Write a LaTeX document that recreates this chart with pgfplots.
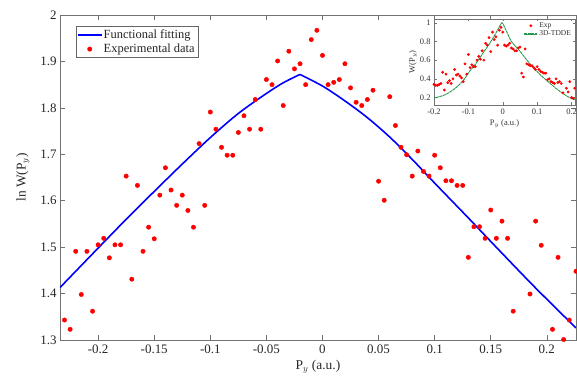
\documentclass[border=0pt]{standalone}
\usepackage{pgfplots}
\pgfplotsset{compat=1.18}
\usepackage{fontspec}
\setmainfont{Liberation Serif}
\definecolor{mred}{rgb}{1,0,0}
\definecolor{mblue}{rgb}{0,0,1}
\definecolor{mgreen}{rgb}{0.15,0.6,0.3}
\definecolor{axgray}{gray}{0.45}

\pgfplotstableread{
x y
-0.230 1.343
-0.225 1.323
-0.220 1.491
-0.215 1.398
-0.210 1.491
-0.205 1.362
-0.200 1.505
-0.195 1.519
-0.190 1.477
-0.185 1.505
-0.180 1.505
-0.175 1.653
-0.170 1.431
-0.165 1.633
-0.160 1.491
-0.155 1.543
-0.150 1.518
-0.145 1.612
-0.140 1.671
-0.135 1.623
-0.130 1.590
-0.125 1.612
-0.120 1.579
-0.115 1.543
-0.110 1.723
-0.105 1.590
-0.100 1.791
-0.095 1.754
-0.090 1.715
-0.085 1.698
-0.080 1.698
-0.075 1.747
-0.070 1.783
-0.065 1.754
-0.060 1.818
-0.055 1.754
-0.050 1.861
-0.045 1.850
-0.040 1.901
-0.035 1.805
-0.030 1.922
-0.025 1.884
-0.020 1.895
-0.015 1.850
-0.010 1.947
-0.005 1.967
0.000 1.913
0.005 1.850
0.010 1.855
0.015 1.861
0.020 1.895
0.025 1.843
0.030 1.812
0.035 1.805
0.040 1.818
0.045 1.838
0.050 1.642
0.055 1.601
0.060 1.824
0.065 1.762
0.070 1.715
0.075 1.699
0.080 1.653
0.085 1.707
0.090 1.663
0.095 1.653
0.100 1.698
0.105 1.671
0.110 1.643
0.115 1.643
0.120 1.633
0.125 1.633
0.130 1.478
0.135 1.544
0.140 1.544
0.145 1.519
0.150 1.580
0.155 1.519
0.160 1.556
0.165 1.519
0.170 1.362
0.185 1.399
0.190 1.556
0.195 1.504
0.205 1.323
0.210 1.478
0.215 1.301
0.220 1.343
0.226 1.448
}\expdata

\pgfplotstableread{
x y
-0.2340 1.413
-0.2000 1.498
-0.1750 1.560
-0.1500 1.620
-0.1250 1.679
-0.1000 1.736
-0.0750 1.788
-0.0500 1.831
-0.0350 1.854
-0.0201 1.872
}\fitleft

\pgfplotstableread{
x y
-0.0201 1.872
0.0000 1.847
0.0200 1.815
0.0400 1.779
0.0600 1.737
0.0800 1.689
0.1000 1.638
0.1300 1.563
0.1600 1.487
0.1900 1.412
0.2260 1.326
}\fitright

\pgfplotstableread{
x y
-0.200 0.34
-0.195 0.33
-0.190 0.33
-0.185 0.34
-0.180 0.35
-0.175 0.47
-0.170 0.28
-0.165 0.45
-0.160 0.36
-0.155 0.38
-0.150 0.35
-0.145 0.40
-0.140 0.50
-0.135 0.44
-0.130 0.45
-0.125 0.43
-0.120 0.41
-0.115 0.37
-0.110 0.56
-0.105 0.45
-0.100 0.66
-0.095 0.52
-0.090 0.55
-0.085 0.53
-0.080 0.53
-0.075 0.60
-0.070 0.64
-0.065 0.61
-0.060 0.70
-0.055 0.60
-0.050 0.78
-0.045 0.76
-0.040 0.84
-0.035 0.69
-0.030 0.90
-0.025 0.82
-0.020 0.85
-0.015 0.76
-0.010 0.92
-0.005 0.95
0.000 0.90
0.005 0.76
0.010 0.75
0.015 0.76
0.020 0.78
0.025 0.73
0.030 0.72
0.035 0.70
0.040 0.70
0.045 0.73
0.050 0.74
0.055 0.46
0.060 0.42
0.065 0.72
0.070 0.56
0.075 0.55
0.080 0.54
0.085 0.54
0.090 0.52
0.095 0.50
0.100 0.53
0.105 0.50
0.110 0.48
0.115 0.47
0.120 0.46
0.125 0.46
0.130 0.39
0.135 0.40
0.140 0.37
0.145 0.36
0.150 0.35
0.155 0.40
0.160 0.36
0.165 0.37
0.170 0.35
0.175 0.25
0.185 0.30
0.190 0.26
0.195 0.37
0.200 0.20
0.205 0.19
0.209 0.30
}\insetexp

\pgfplotstableread{
x y
-0.204 0.19
-0.185 0.208
-0.165 0.234
-0.145 0.28
-0.126 0.339
-0.110 0.405
-0.097 0.478
-0.082 0.545
-0.068 0.617
-0.054 0.695
-0.039 0.773
-0.024 0.865
-0.010 0.955
-0.002 1.0
0.010 0.915
0.025 0.80
0.049 0.70
0.068 0.61
0.087 0.53
0.110 0.44
0.136 0.356
0.160 0.283
0.185 0.218
0.209 0.176
}\insettdde

\begin{document}
\begin{tikzpicture}[x=1bp,y=1bp]
\begin{axis}[
  at={(0,0)}, anchor=south west,
  scale only axis, width=516bp, height=325bp,
  xmin=-0.234, xmax=0.226, ymin=1.3, ymax=2,
  xtick={-0.2,-0.15,-0.1,-0.05,0,0.05,0.1,0.15,0.2},
  xticklabels={-0.2,-0.15,-0.1,-0.05,0,0.05,0.1,0.15,0.2},
  ytick={1.3,1.4,1.5,1.6,1.7,1.8,1.9,2},
  yticklabels={1.3,1.4,1.5,1.6,1.7,1.8,1.9,2},
  xtick pos=both, ytick pos=both,
  tick align=inside,
  major tick length=5bp,
  tick style={axgray, line width=0.5bp},
  axis line style={axgray, line width=0.7bp},
  ticklabel style={font=\fontsize{13}{15}\selectfont, text=black!85},
  xticklabel style={yshift=-1bp},
  label style={font=\fontsize{13.5}{15}\selectfont, text=black!85},
  xlabel={P$_y$ (a.u.)},
  ylabel={ln W(P$_y$)},
  xlabel style={yshift=0bp},
  ylabel style={yshift=4bp},
  legend style={at={(0.031,0.966)}, anchor=north west,
    draw=black!60, fill=white, line width=0.5bp,
    font=\fontsize{12.5}{15}\selectfont, text=black!85,
    row sep=0bp, inner sep=1.5bp},
  legend cell align=left,
]
\addplot[mblue, line width=1.6bp, draw=none,
  legend image code/.code={\fill[mblue] (0bp,-1bp) rectangle (24bp,1bp);}]
  table[x=x,y=y]{\fitleft};
\addlegendentry{Functional fitting}
\addplot[only marks, mark=*, mark size=2.2bp, color=mred, mark options={draw=none, fill=mred},
  legend image code/.code={\fill[mred] (12bp,0bp) circle (2.2bp);}]
  table[x=x,y=y]{\expdata};
\addlegendentry{Experimental data}
\addplot[mblue, line width=1.6bp, smooth]
  table[x=x,y=y]{\fitleft};
\addplot[mblue, line width=1.6bp, smooth]
  table[x=x,y=y]{\fitright};
\end{axis}

\begin{axis}[
  at={(374bp,235bp)}, anchor=south west,
  scale only axis, width=141bp, height=86bp,
  axis background/.style={fill=white},
  xmin=-0.2, xmax=0.21, ymin=0.12, ymax=1.04,
  xtick={-0.2,-0.1,0,0.1,0.2},
  xticklabels={-0.2,-0.1,0,0.1,0.2},
  ytick={0.2,0.4,0.6,0.8,1},
  yticklabels={0.2,0.4,0.6,0.8,1},
  xtick pos=both, ytick pos=both,
  tick align=inside,
  major tick length=2.5bp,
  tick style={axgray, line width=0.4bp},
  axis line style={axgray, line width=0.6bp},
  ticklabel style={font=\fontsize{8.5}{9}\selectfont, text=black!80},
  label style={font=\fontsize{8.5}{9}\selectfont, text=black!80},
  xlabel={P$_y$ (a.u.)},
  ylabel={W(P$_y$)},
  xlabel style={yshift=1bp},
  ylabel style={yshift=-4bp},
  legend style={at={(0.99,0.99)}, anchor=north east,
    draw=none, fill=none,
    font=\fontsize{7.5}{8}\selectfont, text=black!80,
    row sep=-2bp, inner sep=0.5bp},
  legend cell align=left,
]
\addplot[only marks, mark=*, mark size=1.2bp, color=mred, mark options={draw=none, fill=mred},
  legend image code/.code={\fill[mred] (6bp,0bp) circle (1.2bp);}]
  table[x=x,y=y]{\insetexp};
\addlegendentry{Exp}
\addplot[mgreen, line width=0.9bp, smooth, dashed, dash pattern=on 3bp off 0.6bp,
  legend image code/.code={\fill[mgreen] (0bp,-0.45bp) rectangle (12bp,0.45bp);}]
  table[x=x,y=y]{\insettdde};
\addlegendentry{3D-TDDE}
\end{axis}
\pgfresetboundingbox
\path (-60bp,-43bp) rectangle (517bp,340bp);
\end{tikzpicture}
\end{document}
